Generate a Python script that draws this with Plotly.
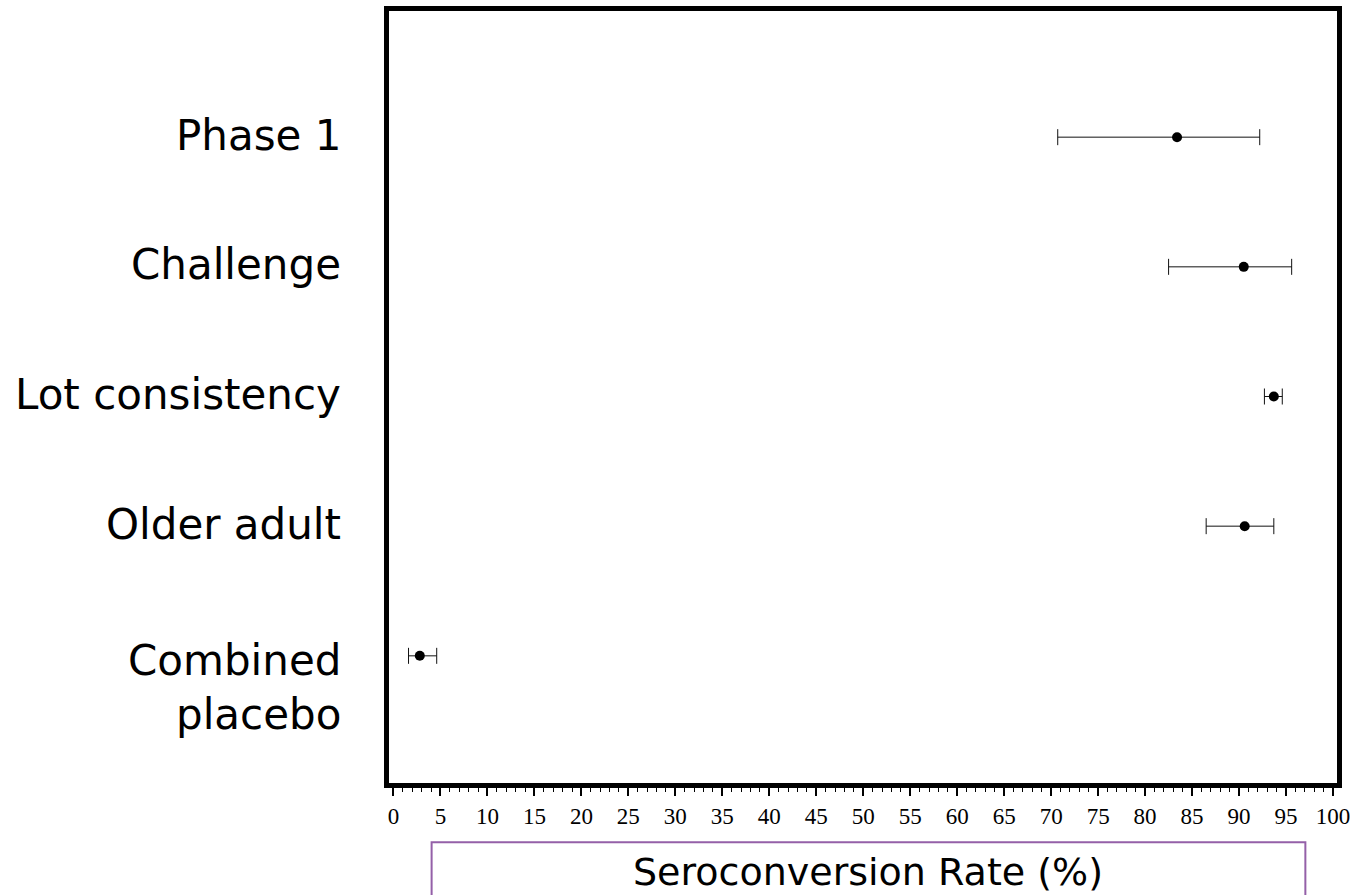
import plotly.graph_objects as go

# ---- data ----
groups = ["Phase 1", "Challenge", "Lot consistency", "Older adult", "Combined placebo"]
label_lines = [["Phase 1"], ["Challenge"], ["Lot consistency"], ["Older adult"], ["Combined", "placebo"]]
rate = [83.4, 90.5, 93.7, 90.6, 2.8]
ci_low = [70.7, 82.5, 92.7, 86.5, 1.6]
ci_high = [92.2, 95.6, 94.6, 93.7, 4.6]
ypos = [5, 4, 3, 2, 1]
xtick_vals = list(range(0, 101, 5))

err_plus = [h - r for h, r in zip(ci_high, rate)]
err_minus = [r - l for l, r in zip(ci_low, rate)]

fig = go.Figure()
fig.add_trace(go.Scatter(
    x=rate, y=ypos, mode="markers",
    marker=dict(color="black", size=10, symbol="circle"),
    error_x=dict(type="data", symmetric=False, array=err_plus, arrayminus=err_minus,
                 color="#111111", thickness=1, width=8),
    showlegend=False, hoverinfo="x+y",
))

W, H = 1356, 895
L, R, T, B = 389, 1339, 5.5, 783
# effective plotting rectangle used for placing decorations
PT = 9

annotations = []
lab_font = dict(family="DejaVu Sans", size=42, color="black")
for lines, y in zip(label_lines, ypos):
    if len(lines) == 1:
        annotations.append(dict(text=lines[0], x=0, xref="paper", y=y, yref="y",
                                xanchor="right", yanchor="middle", xshift=-46, yshift=2,
                                showarrow=False, font=lab_font))
    else:
        annotations.append(dict(text=lines[0], x=0, xref="paper", y=y, yref="y",
                                xanchor="right", yanchor="middle", xshift=-46, yshift=-5,
                                showarrow=False, font=lab_font))
        annotations.append(dict(text=lines[1], x=0, xref="paper", y=y, yref="y",
                                xanchor="right", yanchor="middle", xshift=-46, yshift=-59,
                                showarrow=False, font=lab_font))

ph = B - PT
pw = R - L
def py(p):
    return (B - p) / ph
def px(p):
    return (p - L) / pw

annotations.append(dict(text="Seroconversion Rate (%)", x=px(869.5), xref="paper", y=py(872), yref="paper",
                        xanchor="center", yanchor="middle", showarrow=False,
                        font=dict(family="DejaVu Sans", size=38, color="black")))

shapes = [dict(type="rect", xref="paper", yref="paper",
               x0=px(431.7), x1=px(1307.3), y0=py(842.3), y1=py(960),
               line=dict(color="#9460a8", width=2), fillcolor="rgba(0,0,0,0)", layer="above")]

fig.update_layout(
    width=W, height=H,
    margin=dict(l=L, r=W - R, t=T, b=H - B, pad=0),
    plot_bgcolor="white", paper_bgcolor="white",
    annotations=annotations, shapes=shapes,
    xaxis=dict(range=[(L - 393.5) / 9.415, (R - 393.5) / 9.415],
               tickvals=xtick_vals, ticktext=[str(v) for v in xtick_vals],
               ticks="outside", ticklen=8, tickwidth=2, tickcolor="black",
               minor=dict(dtick=1, ticks="outside", ticklen=4, tickwidth=1, tickcolor="black"),
               showline=True, linewidth=5, linecolor="black", mirror=True,
               showgrid=False, zeroline=False,
               tickfont=dict(family="Liberation Serif", size=23, color="black")),
    yaxis=dict(range=[(785.5 - B) / 130, (785.5 - PT) / 130],
               showticklabels=False, ticks="",
               showline=True, linewidth=5, linecolor="black", mirror=True,
               showgrid=False, zeroline=False),
)

fig.write_html("out.html")
